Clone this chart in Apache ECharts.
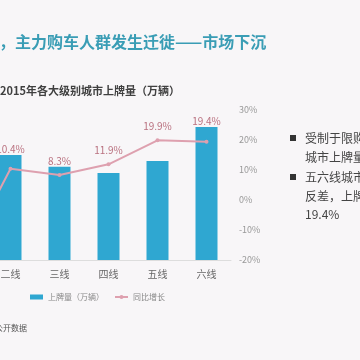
<!DOCTYPE html>
<html>
<head>
<meta charset="utf-8">
<script src="https://cdn.jsdelivr.net/npm/echarts@6/dist/echarts.min.js"></script>
<style>
html,body{margin:0;padding:0;background:#f8f6f8;overflow:hidden;width:360px;height:360px;}
#c{position:absolute;left:-63px;top:0;width:423px;height:360px;}
</style>
</head>
<body>
<div id="c"></div>
<script>
var categories = ['一线', '二线', '三线', '四线', '五线', '六线'];
var plates = [300, 420, 373, 348, 396, 532];
var growth = [-21, 10.4, 8.3, 11.9, 19.9, 19.4];
var growthTicks = ['-20%', '-10%', '0%', '10%', '20%', '30%'];
var seriesNames = ['上牌量（万辆）', '同比增长'];
var titleText = '，主力购车人群发生迁徙——市场下沉';
var subTitleText = '2015年各大级别城市上牌量（万辆）';
var sourceText = '数据来源：公开数据';
var notes = ['受制于限购政策，一线', '城市上牌量下滑', '五六线城市增速形成鲜明', '反差，上牌量增速达', '19.4%'];

var BAR_MAX = 600, G_MIN = -20, G_MAX = 30;
var OX = 63; // page offset of the chart container
var labelColor = '#b9707f';
var font = '"Noto Sans CJK SC", "Noto Sans", sans-serif';

var barData = plates.map(function (v, i) {
  var onBar = v / BAR_MAX >= (growth[i] - G_MIN) / (G_MAX - G_MIN);
  return {value: v, label: {show: i > 0 && onBar}};
});
var lineData = growth.map(function (g, i) {
  var onBar = plates[i] / BAR_MAX >= (g - G_MIN) / (G_MAX - G_MIN);
  return {value: g, label: {show: i > 0 && !onBar}};
});

var chart = echarts.init(document.getElementById('c'), null, {renderer: 'canvas'});
chart.setOption({
  backgroundColor: '#f8f6f8',
  animation: false,
  textStyle: {fontFamily: font},
  grid: {left: 0, right: 129, top: 110, bottom: 100},
  legend: {
    left: OX + 25, top: 288,
    itemWidth: 13, itemHeight: 5, itemGap: 10,
    textStyle: {fontSize: 8, color: '#888', fontFamily: font},
    data: [
      {name: seriesNames[0], icon: 'rect'},
      {name: seriesNames[1]}
    ]
  },
  xAxis: {
    type: 'category',
    data: categories,
    axisLine: {lineStyle: {color: '#dddddd'}},
    axisTick: {show: false},
    axisLabel: {fontSize: 10, color: '#666', margin: 9, fontFamily: font}
  },
  yAxis: [
    {type: 'value', min: 0, max: BAR_MAX, show: false, splitLine: {show: false}},
    {
      type: 'value', position: 'right', min: G_MIN, max: G_MAX, interval: 10,
      axisLine: {show: false}, axisTick: {show: false}, splitLine: {show: false},
      axisLabel: {
        fontSize: 9, color: '#999', margin: 8, fontFamily: font,
        formatter: function (v) { return growthTicks[Math.round((v - G_MIN) / 10)]; }
      }
    }
  ],
  series: [
    {
      name: seriesNames[0], type: 'bar', yAxisIndex: 0, barWidth: 22,
      itemStyle: {color: '#2fa7d1'},
      label: {
        position: 'top', distance: 1, fontSize: 10, color: labelColor, fontFamily: font,
        formatter: function (p) { return growth[p.dataIndex].toFixed(1) + '%'; }
      },
      data: barData
    },
    {
      name: seriesNames[1], type: 'line', yAxisIndex: 1,
      symbol: 'circle', symbolSize: 4, clip: true,
      lineStyle: {color: '#dea0af', width: 2},
      itemStyle: {color: '#dea0af'},
      label: {
        position: 'top', distance: 7, fontSize: 10, color: labelColor, fontFamily: font,
        formatter: function (p) { return p.value.toFixed(1) + '%'; }
      },
      data: lineData
    }
  ],
  graphic: [
    {type: 'text', left: OX - 1, top: 34, style: {text: titleText, fill: '#3a9db5', font: 'bold 16px ' + font}},
    {type: 'text', left: OX, top: 85, style: {text: subTitleText, fill: '#404040', font: 'bold 11px ' + font}},
    {type: 'text', right: 333, top: 324, style: {text: sourceText, fill: '#555', font: '8px ' + font}},
    {type: 'rect', shape: {x: OX + 290, y: 135, width: 6, height: 6}, style: {fill: '#333'}},
    {type: 'rect', shape: {x: OX + 290, y: 174, width: 6, height: 6}, style: {fill: '#333'}},
    {type: 'text', x: OX + 305, y: 138, style: {text: notes[0], fill: '#444', font: '12px ' + font, textVerticalAlign: 'middle'}},
    {type: 'text', x: OX + 305, y: 157, style: {text: notes[1], fill: '#444', font: '12px ' + font, textVerticalAlign: 'middle'}},
    {type: 'text', x: OX + 305, y: 177, style: {text: notes[2], fill: '#444', font: '12px ' + font, textVerticalAlign: 'middle'}},
    {type: 'text', x: OX + 305, y: 196, style: {text: notes[3], fill: '#444', font: '12px ' + font, textVerticalAlign: 'middle'}},
    {type: 'text', x: OX + 305, y: 214, style: {text: notes[4], fill: '#444', font: '12px ' + font, textVerticalAlign: 'middle'}}
  ]
});
</script>
</body>
</html>
